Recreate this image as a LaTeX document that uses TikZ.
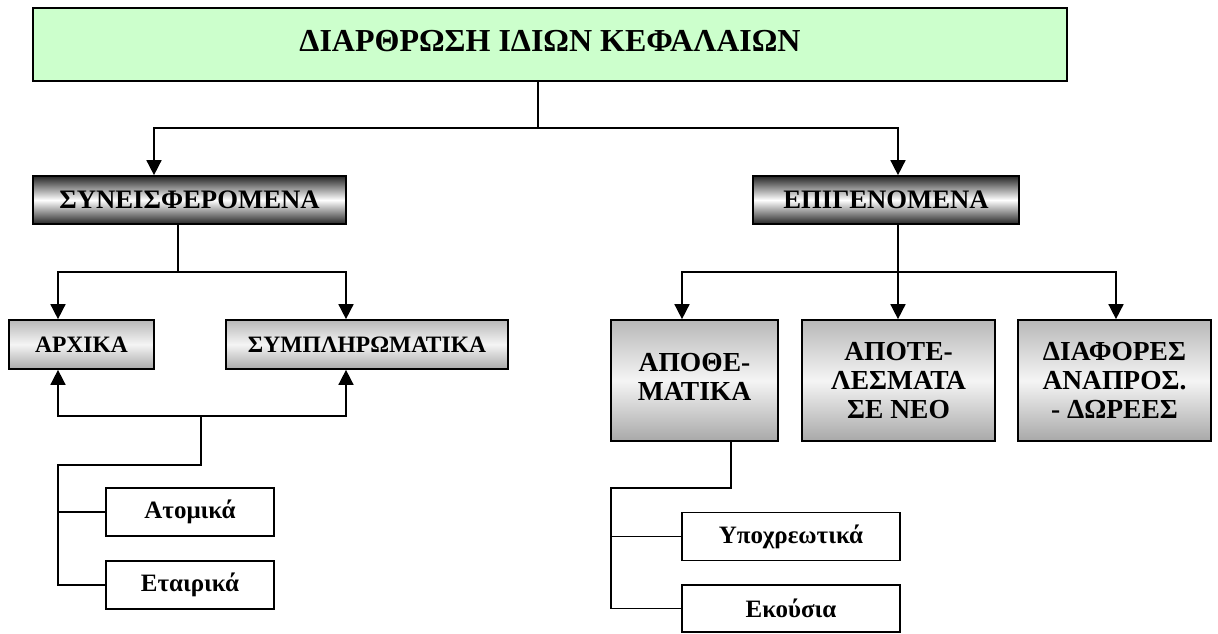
\documentclass[tikz,border=0pt]{standalone}
\usepackage{fontspec}
\setmainfont{Liberation Serif}
\usetikzlibrary{arrows.meta}
\definecolor{titlegreen}{HTML}{CCFFCC}
\tikzset{
  base/.style={draw=black, line width=1.7pt, inner sep=0pt, font=\bfseries, align=center},
  titlebox/.style={base, fill=titlegreen, minimum width=1034pt, minimum height=73pt, font=\fontsize{32}{36}\selectfont\bfseries},
  darkbox/.style={base, minimum height=48pt, top color=black!85, bottom color=black!85, middle color=white, font=\fontsize{26.7}{30}\selectfont\bfseries},
  greybox/.style={base, top color=black!28, bottom color=black!34, middle color=black!4, font=\fontsize{27.5}{29}\selectfont\bfseries},
  smallgrey/.style={greybox, minimum height=49pt, font=\fontsize{23.5}{27}\selectfont\bfseries},
  leafbox/.style={base, fill=white, minimum height=48pt, font=\fontsize{25}{28}\selectfont\bfseries},
  conn/.style={line width=1.6pt, line cap=rect},
  arr/.style={conn, -{Triangle[length=15pt,width=15pt]}}
}
\begin{document}
\begin{tikzpicture}[x=1pt,y=-1pt]
\useasboundingbox (0,0) rectangle (1218,633);
% boxes
\node[titlebox] (title) at (550,44.5) {\raisebox{7pt}{ΔΙΑΡΘΡΩΣΗ ΙΔΙΩΝ ΚΕΦΑΛΑΙΩΝ}};
\node[darkbox, minimum width=313pt] (syn) at (189.5,200) {ΣΥΝΕΙΣΦΕΡΟΜΕΝΑ};
\node[darkbox, minimum width=266pt] (epig) at (886,200) {ΕΠΙΓΕΝΟΜΕΝΑ};
\node[smallgrey, minimum width=145pt] (arx) at (81.5,344.5) {ΑΡΧΙΚΑ};
\node[smallgrey, minimum width=282pt] (sympl) at (367,344.5) {ΣΥΜΠΛΗΡΩΜΑΤΙΚΑ};
\node[greybox, minimum width=167pt, minimum height=121pt] (apoth) at (694.5,380.5) {\raisebox{14.5pt}{\begin{tabular}{@{}c@{}}ΑΠΟΘΕ-\\ΜΑΤΙΚΑ\end{tabular}}};
\node[greybox, minimum width=193pt, minimum height=121pt] (apote) at (898.5,380.5) {ΑΠΟΤΕ-\\ΛΕΣΜΑΤΑ\\ΣΕ ΝΕΟ};
\node[greybox, minimum width=193pt, minimum height=121pt] (diaf) at (1114.5,380.5) {ΔΙΑΦΟΡΕΣ\\ΑΝΑΠΡΟΣ.\\- ΔΩΡΕΕΣ};
\node[leafbox, minimum width=168pt] (atom) at (190,512) {Ατομικά};
\node[leafbox, minimum width=168pt] (etair) at (190,585) {Εταιρικά};
\node[leafbox, minimum width=218pt] (ypox) at (791,536.5) {Υποχρεωτικά};
\node[leafbox, minimum width=218pt, minimum height=47pt] (ekous) at (791,608.5) {Εκούσια};
% junctions
\coordinate (j1) at (538,128);
\coordinate (j2) at (178,272);
\coordinate (j3) at (201,416);
\coordinate (j4) at (58,465);
\coordinate (j5) at (898,272);
\coordinate (j6) at (611,488);
% top level
\draw[conn] (j1 |- title.south) -- (j1);
\draw[arr] (j1) -| ([xshift=-35.5pt]syn.north);
\draw[arr] (j1) -| ([xshift=12pt]epig.north);
% left branch
\draw[conn] ([xshift=-11.5pt]syn.south) -- (j2);
\draw[arr] (j2) -| ([xshift=-23.5pt]arx.north);
\draw[arr] (j2) -| ([xshift=-21pt]sympl.north);
\draw[arr] (j3) -| ([xshift=-23.5pt]arx.south);
\draw[arr] (j3) -| ([xshift=-21pt]sympl.south);
\draw[conn] (j3) |- (j4) -- (j4 |- etair.west) -- (etair.west);
\draw[conn] (j4 |- atom.west) -- (atom.west);
% right branch
\draw[conn] ([xshift=12pt]epig.south) -- (j5);
\draw[arr] (j5) -| ([xshift=-12.5pt]apoth.north);
\draw[arr] (j5) -- (j5 |- apote.north);
\draw[arr] (j5) -| ([xshift=1.5pt]diaf.north);
\draw[conn] ([xshift=36.5pt]apoth.south) |- (j6) -- (j6 |- ekous.west) -- (ekous.west);
\draw[conn] (j6 |- ypox.west) -- (ypox.west);
\end{tikzpicture}
\end{document}
